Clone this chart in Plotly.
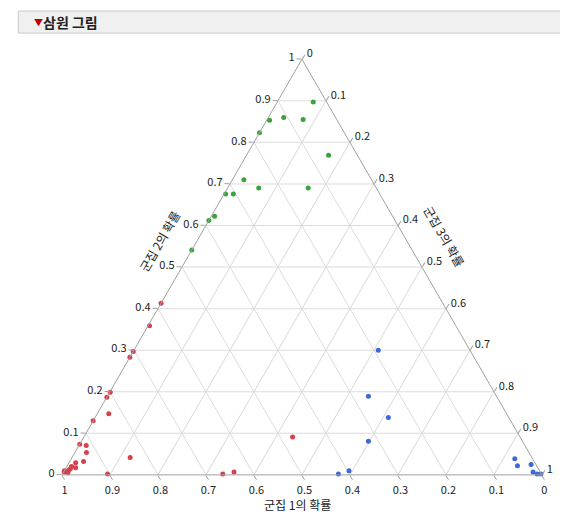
import plotly.graph_objects as go

# 군집별 확률 (군집 1, 군집 2, 군집 3)
green_p1 = [0.028, 0.108, 0.141, 0.177, 0.070, 0.060, 0.266, 0.321, 0.305, 0.245, 0.142, 0.371, 0.388, 0.459]
green_p2 = [0.897, 0.860, 0.853, 0.823, 0.855, 0.769, 0.710, 0.676, 0.676, 0.690, 0.690, 0.622, 0.612, 0.541]
green_p3 = [0.075, 0.032, 0.006, 0.000, 0.075, 0.171, 0.024, 0.003, 0.019, 0.065, 0.168, 0.007, 0.000, 0.000]

red_p1 = [0.587, 0.638, 0.703, 0.717, 0.800, 0.813, 0.870, 0.829, 0.926, 0.914, 0.922, 0.957, 0.963,
          0.939, 0.980, 0.992, 0.837, 0.904, 0.664, 0.638, 0.474, 0.990, 0.970, 0.985, 0.975]
red_p2 = [0.413, 0.359, 0.297, 0.283, 0.199, 0.187, 0.130, 0.147, 0.074, 0.071, 0.054, 0.029, 0.017,
          0.032, 0.012, 0.007, 0.042, 0.002, 0.002, 0.007, 0.091, 0.010, 0.020, 0.005, 0.015]
red_p3 = [0.000, 0.003, 0.000, 0.000, 0.001, 0.000, 0.000, 0.024, 0.000, 0.015, 0.024, 0.014, 0.020,
          0.029, 0.008, 0.001, 0.121, 0.094, 0.334, 0.355, 0.435, 0.000, 0.010, 0.010, 0.010]

blue_p1 = [0.191, 0.267, 0.251, 0.321, 0.397, 0.423, 0.037, 0.040, 0.010, 0.015, 0.009, 0.001]
blue_p2 = [0.300, 0.189, 0.138, 0.081, 0.010, 0.002, 0.039, 0.022, 0.025, 0.007, 0.002, 0.002]
blue_p3 = [0.509, 0.544, 0.611, 0.598, 0.593, 0.575, 0.924, 0.938, 0.965, 0.978, 0.989, 0.997]

ticks = [0, 0.1, 0.2, 0.3, 0.4, 0.5, 0.6, 0.7, 0.8, 0.9, 1]
tick_text = ["0", "0.1", "0.2", "0.3", "0.4", "0.5", "0.6", "0.7", "0.8", "0.9", "1"]

FONT = "Segoe UI, Noto Sans CJK KR, Noto Sans, sans-serif"

fig = go.Figure()
for p1, p2, p3, color in [
    (red_p1, red_p2, red_p3, "#D5414E"),
    (green_p1, green_p2, green_p3, "#3AA33B"),
    (blue_p1, blue_p2, blue_p3, "#3D69D8"),
]:
    fig.add_trace(go.Scatterternary(
        a=p2, b=p1, c=p3, mode="markers", cliponaxis=False,
        marker=dict(color=color, size=5), showlegend=False,
    ))

axis = dict(
    tickvals=ticks, ticktext=tick_text, showgrid=True, gridcolor="#DCDCDC",
    linecolor="#A0A0A0", ticks="outside", ticklen=5, tickcolor="#A0A0A0",
    tickfont=dict(size=11, color="#222"), title=dict(text=""), min=0,
)

fig.update_layout(
    width=568, height=512,
    margin=dict(l=0, r=0, t=0, b=0),
    paper_bgcolor="white",
    font=dict(family=FONT),
    ternary=dict(
        domain=dict(x=[0.095, 0.940], y=[0.088, 0.900]),
        bgcolor="white", sum=1,
        aaxis=axis, baxis=axis, caxis=axis,
    ),
    shapes=[dict(type="rect", xref="paper", yref="paper", x0=0.018, x1=0.998,
                 y0=0.951, y1=0.994, fillcolor="#F0F0F0", line=dict(color="#C8C8C8", width=1))],
    annotations=[
        dict(text="▼", x=0.042, y=0.972, xref="paper", yref="paper", showarrow=False,
             yanchor="middle", font=dict(size=9, color="#C00000")),
        dict(text="<b>삼원 그림</b>", x=0.058, y=0.972, xref="paper", yref="paper", showarrow=False,
             xanchor="left", yanchor="middle", font=dict(size=14, color="#222")),
        dict(text="군집 1의 확률", x=0.51, y=0.01, xref="paper", yref="paper", showarrow=False,
             yanchor="bottom", font=dict(size=12, color="#222")),
        dict(text="군집 2의 확률", x=0.22, y=0.545, xref="paper", yref="paper", showarrow=False,
             textangle=-60, font=dict(size=12, color="#222")),
        dict(text="군집 3의 확률", x=0.815, y=0.555, xref="paper", yref="paper", showarrow=False,
             textangle=60, font=dict(size=12, color="#222")),
    ],
)

fig.write_html("out.html")
